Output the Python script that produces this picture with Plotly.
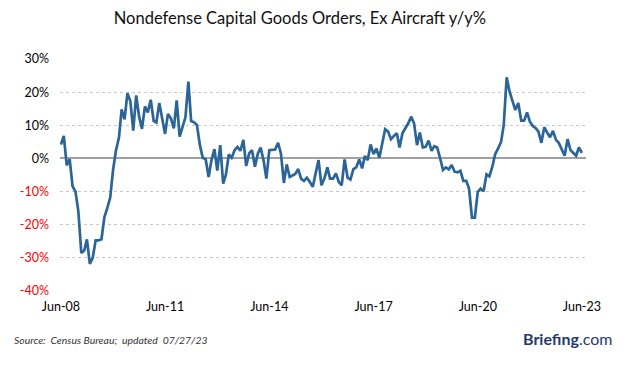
import pandas as pd
import plotly.graph_objects as go

# Monthly y/y % change, Jun-2008 .. Jun-2023
values = [
    4.2, 6.8, -2.1, -0.2, -8.4, -10.0, -16.0, -28.5, -27.8, -24.4,
    -31.8, -30.0, -24.7, -24.7, -24.4, -17.7, -15.0, -11.8, -3.5, 2.5,
    6.3, 14.8, 11.8, 19.7, 17.2, 8.4, 19.0, 12.6, 8.9, 15.7,
    13.9, 17.7, 11.3, 10.8, 16.7, 12.1, 7.4, 13.4, 12.1, 9.1,
    17.5, 6.6, 9.8, 12.4, 23.2, 11.3, 10.9, 10.1, 4.0, 0.2,
    -0.3, -5.6, -0.5, 2.8, -3.7, 4.0, -7.6, -5.0, 1.2, 0.2,
    2.5, 3.5, 2.3, 5.6, -2.3, 1.5, 2.5, -2.5, 1.5, 3.3,
    -0.5, -6.1, 2.5, 2.7, 2.7, 4.7, 1.5, -7.4, -1.8, -5.6,
    -5.0, -4.7, -3.2, -6.1, -6.8, -5.8, -7.1, -8.6, -4.5, -0.5,
    -8.1, -6.1, -2.7, -6.1, -6.1, -4.5, -7.1, -8.1, -0.3, -5.8,
    -6.4, -3.2, -2.7, -0.3, -3.0, 0.7, -0.5, 4.2, 1.3, 3.0,
    0.2, 5.0, 8.8, 8.1, 5.8, 6.8, 7.6, 3.3, 7.6, 9.1,
    10.6, 12.6, 10.6, 4.0, 7.8, 3.3, 3.5, 5.4, 2.3, 3.7,
    3.3, 0.2, -3.5, -2.7, -3.3, -2.0, -4.0, -4.2, -3.7, -6.8,
    -6.8, -9.1, -17.9, -17.9, -10.1, -9.1, -9.9, -4.8, -5.4, -2.5,
    1.3, 3.0, 5.0, 10.1, 24.5, 20.2, 17.2, 14.6, 16.7, 11.4,
    11.4, 13.9, 11.1, 9.8, 9.1, 8.1, 4.7, 9.4, 7.8, 6.4,
    8.3, 5.6, 4.7, 2.7, 0.8, 5.8, 2.5, 1.7, 0.8, 3.3,
    1.7,
]
dates = pd.date_range("2008-06-01", periods=len(values), freq="MS")

x_tick_vals = ["2008-06-01", "2011-06-01", "2014-06-01", "2017-06-01", "2020-06-01", "2023-06-01"]
x_tick_text = ["Jun-08", "Jun-11", "Jun-14", "Jun-17", "Jun-20", "Jun-23"]
y_tick_vals = [30, 20, 10, 0, -10, -20, -30, -40]
y_tick_text = [
    (f"<span style='color:#ff0000'>{v}%</span>" if v < 0 else f"{v}%") for v in y_tick_vals
]

FONT = "Lato, 'Open Sans', sans-serif"

fig = go.Figure()
fig.add_trace(go.Scatter(
    x=dates, y=values, mode="lines",
    line=dict(color="#2b6597", width=2.7),
    hoverinfo="skip", showlegend=False,
))

fig.update_layout(
    width=625, height=358,
    margin=dict(l=48, r=47, t=51, b=75),
    paper_bgcolor="white", plot_bgcolor="white",
    font=dict(family=FONT, size=12, color="#000000"),
    title=dict(
        text="Nondefense Capital Goods Orders, Ex Aircraft y/y%",
        x=0.467, xanchor="center", y=0.972, yanchor="middle",
        font=dict(family=FONT, size=16.5, color="#111111"),
    ),
    xaxis=dict(
        range=["2008-05-22", "2023-07-14"],
        tickvals=x_tick_vals, ticktext=x_tick_text,
        showgrid=False, zeroline=False, showline=False,
        ticks="", ticklabelstandoff=6,
        tickfont=dict(size=12.5, color="#000000"),
    ),
    yaxis=dict(
        range=[-40, 30],
        tickvals=y_tick_vals, ticktext=y_tick_text,
        showgrid=True, gridcolor="#c8c8c8", griddash="dot", gridwidth=1,
        zeroline=True, zerolinecolor="#a0a0a0", zerolinewidth=2,
        showline=False, ticks="", ticklabelstandoff=10,
        tickfont=dict(size=12.5, color="#000000"),
    ),
    annotations=[
        dict(text="<i>Source:  Census Bureau;  updated  07/27/23</i>",
             xref="paper", yref="paper", x=-0.0906, y=-0.211,
             xanchor="left", yanchor="middle", showarrow=False,
             font=dict(family=FONT, size=10.4, color="#333333")),
        dict(text="<b>Briefing</b>.com",
             xref="paper", yref="paper", x=1.053, y=-0.203,
             xanchor="right", yanchor="middle", showarrow=False,
             font=dict(family=FONT, size=16, color="#1f3b6e")),
    ],
)

fig.write_html("out.html")
